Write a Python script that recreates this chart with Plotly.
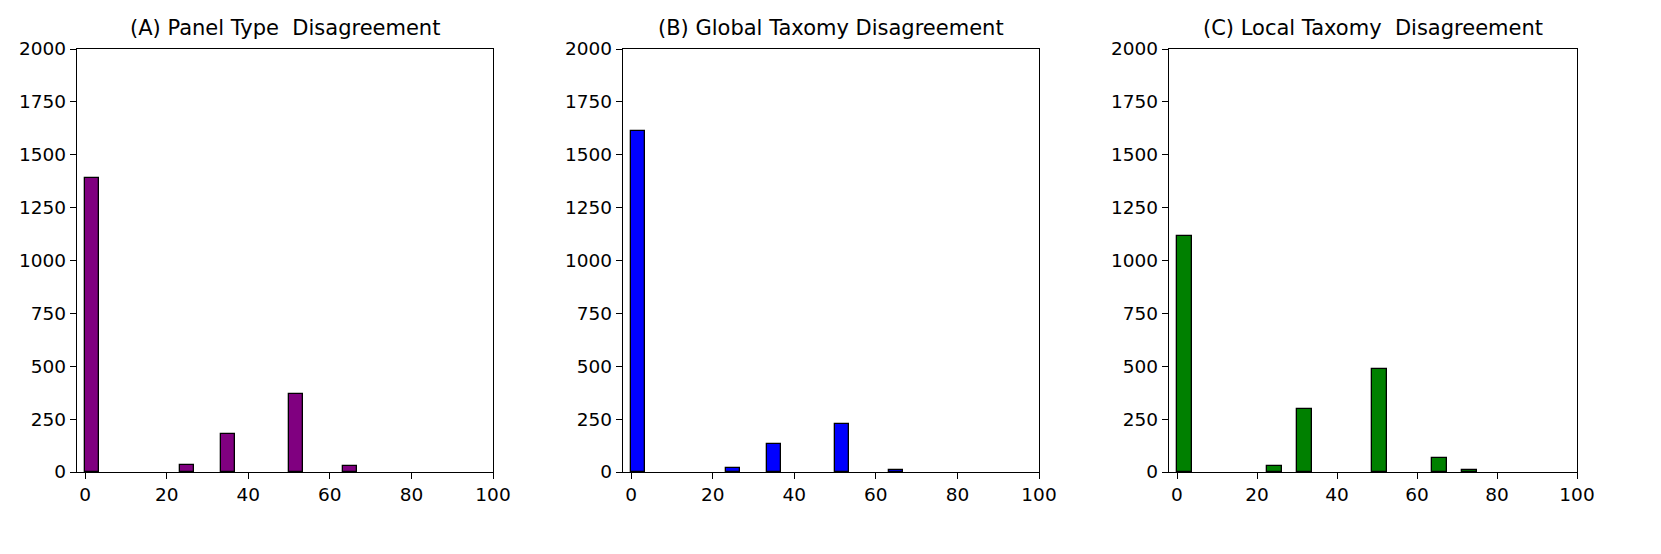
import plotly.graph_objects as go
from plotly.subplots import make_subplots

# histogram bins (left edge, count); bins with zero count left out
titles = ["(A) Panel Type\u00a0 Disagreement",
          "(B) Global Taxomy Disagreement",
          "(C) Local Taxomy\u00a0 Disagreement"]
colors = ["purple", "blue", "green"]

a_left = [0.0, 23.33, 33.33, 50.0, 63.33]
a_count = [1390, 35, 181, 369, 28]
a_width = 3.333

b_left = [0.0, 23.33, 33.33, 50.0, 63.33]
b_count = [1614, 20, 132, 225, 11]
b_width = 3.333

c_left = [0.0, 22.5, 30.0, 48.75, 63.75, 71.25]
c_count = [1116, 30, 296, 487, 66, 8]
c_width = 3.75

panels = [(a_left, a_count, a_width), (b_left, b_count, b_width), (c_left, c_count, c_width)]

# page body has an 8px margin, so the figure is drawn slightly smaller and offset
W, H, off = 1645, 538, 8

fig = make_subplots(rows=1, cols=3)

xpx = [(77, 493), (623, 1039), (1169, 1577)]
xdomains = [[(a - off) / W, (b - off) / W] for a, b in xpx]
ydom = [1 - (472 - off) / H, 1 - (49 - off) / H]
tickfont = dict(family="DejaVu Sans", size=18.5, color="black")

for i, (left, count, w) in enumerate(panels):
    fig.add_trace(go.Bar(x=left, y=count, width=w, offset=0,
                         marker=dict(color=colors[i], line=dict(color="black", width=1.3)),
                         showlegend=False), row=1, col=i+1)
    n = "" if i == 0 else str(i+1)
    fig.layout["xaxis" + n].update(domain=xdomains[i], range=[-2, 100], tickvals=[0, 20, 40, 60, 80, 100],
                                   showline=True, mirror=True, linecolor="black", linewidth=1.3,
                                   ticks="outside", ticklen=6, tickwidth=1.3, tickcolor="black",
                                   showgrid=False, zeroline=False, automargin=False, tickfont=tickfont)
    fig.layout["yaxis" + n].update(domain=ydom, range=[0, 2000], tickvals=list(range(0, 2001, 250)),
                                   showline=True, mirror=True, linecolor="black", linewidth=1.3,
                                   ticks="outside", ticklen=6, tickwidth=1.3, tickcolor="black",
                                   showgrid=False, zeroline=False, automargin=False, tickfont=tickfont)
    fig.add_annotation(text=titles[i], xref="paper", yref="paper",
                       x=sum(xdomains[i]) / 2, y=ydom[1] + 7 / H, xanchor="center", yanchor="bottom",
                       showarrow=False, font=dict(family="DejaVu Sans", size=21, color="black"))

fig.update_layout(template="none", width=W, height=H, margin=dict(l=0, r=0, t=0, b=0),
                  plot_bgcolor="white", paper_bgcolor="white", bargap=0,
                  font=dict(family="DejaVu Sans", size=18, color="black"))

fig.write_html("out.html")
